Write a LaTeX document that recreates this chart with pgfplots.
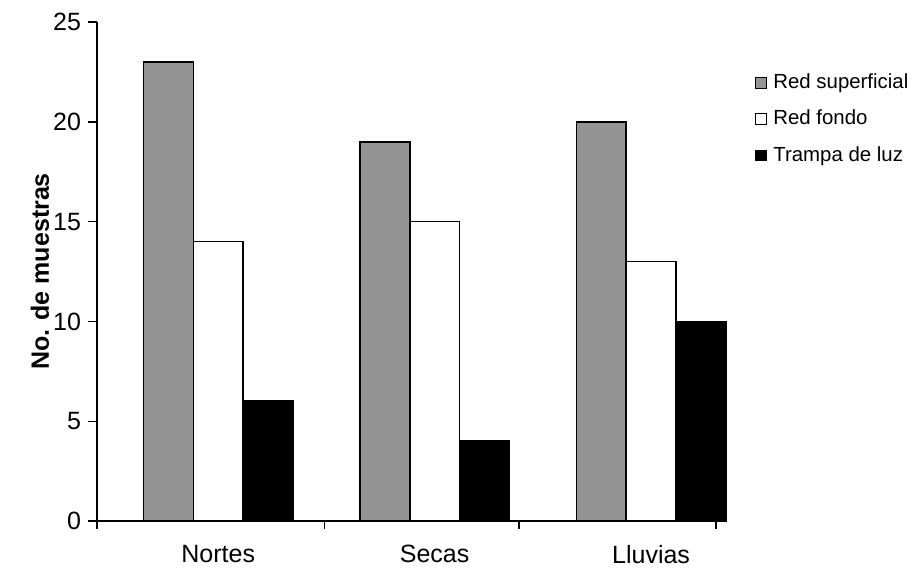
\documentclass[border=0pt]{standalone}
\usepackage{pgfplots}
\pgfplotsset{compat=1.18}
\usepackage{fontspec}
\setmainfont{Liberation Sans}
\begin{document}
\begin{tikzpicture}
\path[use as bounding box] (0,0) rectangle (459pt,285pt);
\begin{axis}[
  at={(48.5pt,24.5pt)}, anchor=south west,
  scale only axis, width=309.5pt, height=249.5pt,
  xmin=-0.56, xmax=2.30, ymin=0, ymax=25,
  axis x line*=bottom, axis y line*=left,
  axis line style={line width=0.8pt},
  clip=false,
  ybar, bar width=0.23,
  xtick={0,1,2}, xticklabels={Nortes,Secas,Lluvias},
  major x tick style={draw=none},
  minor xtick={-0.56,0.49,1.39,2.30},
  minor tick length=4pt,
  ytick={0,5,10,15,20,25},
  major tick length=4.5pt,
  tick align=outside,
  tick style={black, line width=0.7pt},
  /pgf/number format/assume math mode=true,
  ticklabel style={font=\fontsize{12.5}{14}\selectfont},
  xticklabel style={yshift=-4pt},
  ylabel={\textbf{No. de muestras}},
  ylabel style={font=\fontsize{12.5}{14}\selectfont, at={(axis description cs:-0.092,0.5)}, anchor=center},
  legend style={draw=none, fill=none, at={(1.063,0.905)}, anchor=north west,
    font=\fontsize{10.2}{12}\selectfont, row sep=5.3pt, inner sep=0pt,
    nodes={inner xsep=3pt}},
  legend cell align=left,
  legend image code/.code={\draw[#1, line width=0.5pt] (0pt,-2.7pt) rectangle (5.5pt,2.7pt);},
]
\addplot[bar shift=-0.23, fill=black!42, draw=black, line width=0.8pt] coordinates {(0,23) (1,19) (2,20)};
\addplot[bar shift=0, fill=white, draw=black, line width=0.8pt] coordinates {(0,14) (1,15) (2,13)};
\addplot[bar shift=0.23, fill=black, draw=black, line width=0.8pt] coordinates {(0,6) (1,4) (2,10)};
\legend{Red superficial, Red fondo, Trampa de luz}
\end{axis}
\end{tikzpicture}
\end{document}
